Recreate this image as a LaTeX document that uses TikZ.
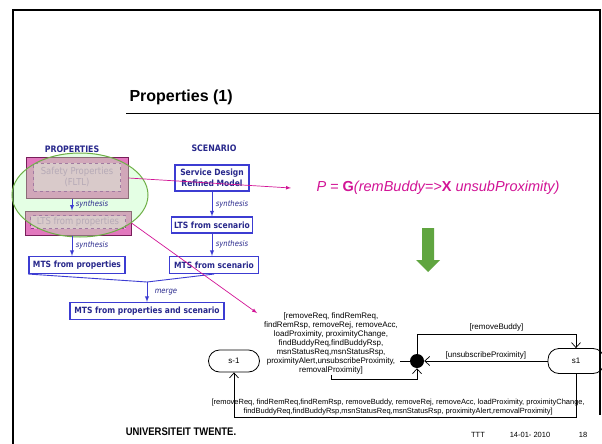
\documentclass[tikz,border=0pt]{standalone}
\usepackage{fontspec}
\setmainfont{Liberation Sans}
\newfontfamily\tahoma{DejaVu Sans}[FakeStretch=0.88]
\usepackage{graphicx}
\usetikzlibrary{arrows.meta}
\definecolor{navy}{RGB}{40,40,140}
\definecolor{boxblue}{RGB}{60,60,210}
\definecolor{pinkline}{RGB}{210,20,150}
\definecolor{arrowgreen}{RGB}{96,165,64}
\definecolor{ellgreen}{RGB}{110,175,70}
\definecolor{hatchpink}{RGB}{226,120,190}
\definecolor{hatchedge}{RGB}{120,30,90}
\definecolor{fadetext}{RGB}{185,125,185}

\begin{document}
\begin{tikzpicture}[x=1pt,y=-1pt,
  bluebox/.style={draw=boxblue,line width=1.1pt,fill=white,text=navy,font=\tahoma\bfseries\fontsize{8.6}{10.7}\selectfont,align=center,inner sep=0pt},
  pinkbox/.style={draw=hatchedge,line width=1pt,fill=hatchpink,inner sep=0pt},
  dashbox/.style={draw=violet!80,dashed,fill=hatchpink!60!white,text=fadetext,font=\tahoma\fontsize{9.6}{10.5}\selectfont,align=center,inner sep=0pt},
  colhead/.style={font=\tahoma\bfseries\fontsize{8.9}{10}\selectfont,text=navy},
  synth/.style={font=\tahoma\itshape\fontsize{7.8}{9}\selectfont,text=navy},
  blueflow/.style={-latex,boxblue,line width=0.9pt},
  pinkflow/.style={-latex,pinkline,line width=0.7pt},
  state/.style={draw,line width=0.8pt,rounded corners=11pt,font=\fontsize{8}{9}\selectfont},
  trans/.style={-{Straight Barb[length=5pt,width=9pt]},line width=0.7pt},
  guard/.style={font=\fontsize{8}{9}\selectfont,align=center,inner sep=1.5pt}]

  \fill[white] (0,0) rectangle (602,444);
  \useasboundingbox (0,0) rectangle (602,444);
  \draw[line width=2pt] (13,444) -- (13,10) -- (600,10) -- (600,415);

  \node[anchor=base west,font=\bfseries\fontsize{16}{18}\selectfont] (title) at (126,101) {Properties (1)};
  \draw[line width=1pt] (title.base west) ++(0,12) -- (600,113);

  \node[colhead] (prophead) at (72,149) {PROPERTIES};
  \node[colhead] (scenhead) at (214,148) {SCENARIO};

  \node[pinkbox,minimum width=102,minimum height=41] (safety) at (77,178) {};
  \node[dashbox,minimum width=87,minimum height=28] (safetyin) at (77,177) {Safety Properties\\(FLTL)};
  \node[pinkbox,minimum width=106,minimum height=24] (ltsprop) at (78,223) {};
  \node[dashbox,minimum width=95,minimum height=13] (ltspropin) at (78,222) {LTS from properties};
  \draw[ellgreen,line width=1pt,fill=green!30,fill opacity=0.35] (80,195) ellipse [x radius=68,y radius=42];

  \node[bluebox,minimum width=96,minimum height=17] (mtsprop) at (77,265) {MTS from properties};
  \node[bluebox,minimum width=74,minimum height=26] (sdrm) at (212,178) {Service Design\\Refined Model};
  \node[bluebox,minimum width=81,minimum height=16] (ltsscen) at (212,225) {LTS from scenario};
  \node[bluebox,minimum width=89,minimum height=17] (mtsscen) at (214,265) {MTS from scenario};
  \node[bluebox,minimum width=154,minimum height=17] (mtsall) at (147,311) {MTS from properties and scenario};

  \draw[blueflow] ([xshift=-5pt]safety.south) -- ([xshift=-6pt]ltsprop.north) node[synth,midway,right] {synthesis};
  \draw[blueflow] ([xshift=-6pt]ltsprop.south) -- ([xshift=-5pt]mtsprop.north) node[synth,midway,right] {synthesis};
  \draw[blueflow] (sdrm.south) -- (ltsscen.north) node[synth,midway,right] {synthesis};
  \draw[blueflow] (ltsscen.south) -- (ltsscen.south |- mtsscen.north) node[synth,midway,right] {synthesis};
  \coordinate (mergept) at (147,282);
  \draw[boxblue,line width=0.9pt] (mtsprop.south west) -- (mergept) -- (mtsscen.south);
  \draw[blueflow] (mergept) -- (mtsall.north) node[synth,midway,right,xshift=4pt] {merge};

  \node[text=pinkline,font=\itshape\fontsize{14.5}{16}\selectfont] (formula) at (438,188) {P = \textbf{\upshape G}(remBuddy=>\textbf{\upshape X} unsubProximity)};
  \draw[pinkflow] (safety.east) -- ([xshift=-22pt]formula.west);
  \coordinate (ptip) at (257,313);
  \draw[pinkflow] (ltsprop.east) -- (ptip);

  \fill[arrowgreen] (422,228) -- (434,228) -- (434,260) -- (440,260) -- (428,272) -- (416,260) -- (422,260) -- cycle;

  \node[state,minimum width=51,minimum height=22] (sm1) at (234,361) {s-1};
  \node[state,minimum width=56,minimum height=25] (s1) at (576,361) {s1};
  \node[circle,fill=black,inner sep=0pt,minimum size=14] (dot) at (417,361) {};
  \node[guard] (loopg) at (331,343) {[removeReq, findRemReq,\\findRemRsp, removeRej, removeAcc,\\loadProximity, proximityChange,\\findBuddyReq,findBuddyRsp,\\msnStatusReq,msnStatusRsp,\\proximityAlert,unsubscribeProximity,\\removalProximity]};

  \draw[trans] (s1.west) -- (dot.east) node[guard,midway,above] {[unsubscribeProximity]};
  \draw[trans] (dot.north) -- ++(0,-19) -| node[guard,pos=0.25,above,yshift=2pt] {[removeBuddy]} (s1.north);
  \draw[line width=0.7pt] (dot.west) -- (dot.west -| loopg.east);
  \draw[trans] (loopg.south) -- ++(0,4) -| (dot.south);
  \draw[trans] (s1.south) -- ++(0,43) -| node[guard,pos=0.26,above,font=\fontsize{7.5}{8.5}\selectfont] {[removeReq, findRemReq,findRemRsp, removeBuddy, removeRej, removeAcc, loadProximity, proximityChange,\\findBuddyReq,findBuddyRsp,msnStatusReq,msnStatusRsp, proximityAlert,removalProximity]} (sm1.south);

  \node[font=\bfseries\fontsize{11}{12}\selectfont] (ut) at (181,432) {\scalebox{0.86}[1]{UNIVERSITEIT TWENTE.}};
  \foreach \t/\x in {TTT/478,14-01- 2010/530,18/583}
  \node[font=\fontsize{7.5}{9}\selectfont] (foot\x) at (\x,435) {\t};
\end{tikzpicture}
\end{document}
